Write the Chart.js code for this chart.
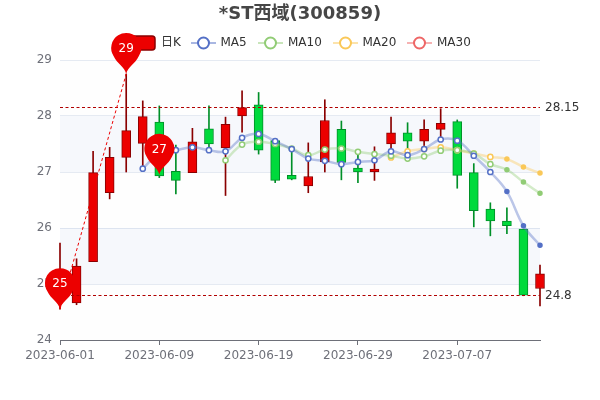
<!DOCTYPE html>
<html><head><meta charset="utf-8">
<style>html,body{margin:0;padding:0;background:#fff}#w{width:600px;height:400px}</style>
<script src="https://cdn.jsdelivr.net/npm/chart.js@4"></script></head>
<body><div id="w"><canvas id="c" width="600" height="400"></canvas></div>
<script>
const dates=['2023-06-01','2023-06-02','2023-06-05','2023-06-06','2023-06-07','2023-06-08','2023-06-09','2023-06-12','2023-06-13','2023-06-14','2023-06-15','2023-06-16','2023-06-19','2023-06-20','2023-06-21','2023-06-26','2023-06-27','2023-06-28','2023-06-29','2023-06-30','2023-07-03','2023-07-04','2023-07-05','2023-07-06','2023-07-07','2023-07-10','2023-07-11','2023-07-12','2023-07-13','2023-07-14'];
const open=[24.72,24.66,25.40,26.63,27.26,27.51,27.89,27.01,26.99,27.77,27.43,28.00,28.20,27.56,26.94,26.75,27.18,27.76,27.07,27.00,27.50,27.70,27.55,27.76,27.90,26.99,26.34,26.125,25.98,24.92];
const close=[25.00,25.32,26.99,27.26,27.74,27.99,26.93,26.85,27.54,27.50,27.85,28.15,27.39,26.85,26.87,26.92,27.92,27.17,27.00,27.05,27.70,27.55,27.76,27.87,26.94,26.31,26.125,26.04,24.80,25.18];
const low=[24.55,24.63,25.40,26.52,27.00,27.07,26.90,26.61,26.99,27.45,26.58,27.71,27.32,26.81,26.86,26.63,27.00,26.86,26.81,26.85,27.27,27.25,27.42,27.60,26.71,26.02,25.86,25.90,24.79,24.61];
const high=[25.73,25.45,27.37,27.44,28.75,28.27,28.18,27.48,27.78,28.18,27.98,28.45,28.42,27.56,27.45,27.52,28.29,27.91,27.32,27.45,27.98,27.88,27.93,28.13,27.93,27.15,26.45,26.36,25.98,25.34];
const ma5=[null,null,null,null,null,27.06,27.33,27.39,27.44,27.39,27.37,27.61,27.68,27.55,27.41,27.24,27.20,27.14,27.18,27.21,27.37,27.30,27.41,27.58,27.56,27.29,27.00,26.65,26.04,25.69];
const ma10=[null,null,null,null,null,null,null,null,null,null,27.21,27.49,27.54,27.50,27.42,27.30,27.40,27.42,27.36,27.32,27.29,27.24,27.28,27.38,27.39,27.33,27.14,27.04,26.82,26.62];
const ma20=[null,null,null,null,null,null,null,null,null,null,null,null,null,null,null,null,null,null,null,null,27.26,27.37,27.41,27.44,27.39,27.33,27.27,27.23,27.09,26.98];
const ma30=dates.map(()=>null);
const titleText='*ST西域(300859)';
const legendNames=['日K','MA5','MA10','MA20','MA30'];
const pinIndex=[0,6,4];
const pinValue=[24.55,26.95,28.75];
const pinLabel=['25','27','29'];
const levels=[28.15,24.8];
const levelLabels=['28.15','24.8'];
const yTicks=[24,25,26,27,28,29];

const FONT="'DejaVu Sans','Noto Sans CJK SC',sans-serif";
const UP='#ec0000',UPB='#8a0000',DN='#00da3c',DNB='#008f28';
const isUp=i=>close[i]>=open[i];
const lineDs=(label,data,color,alpha)=>({type:'line',label,data,order:1,clip:false,
  borderColor:alpha,borderWidth:2.5,tension:0.4,spanGaps:false,
  pointRadius:c=>c.dataIndex>=27?2:2.6,
  pointBackgroundColor:c=>c.dataIndex>=27?color:'#fff',
  pointBorderColor:color,pointBorderWidth:1.5,pointHoverRadius:2});

const decor={id:'decor',
 beforeDatasetsDraw(ch){
  const {ctx,chartArea:a,scales:{y}}=ch;ctx.save();
  for(let v=24;v<29;v++){
    ctx.fillStyle=(v%2)?'rgba(210,219,238,0.2)':'rgba(250,250,250,0.2)';
    ctx.fillRect(a.left,y.getPixelForValue(v+1),a.right-a.left,y.getPixelForValue(v)-y.getPixelForValue(v+1));
  }
  ctx.restore();
 },
 afterDatasetsDraw(ch){
  const {ctx,chartArea:a,scales:{x,y}}=ch;ctx.save();
  ctx.font='bold 18px '+FONT;ctx.textAlign='center';ctx.textBaseline='middle';ctx.fillStyle='#464646';
  ctx.fillText(titleText,300,14);
  const names=legendNames,iconX=[130,191,258,333,407],textX=[161,220.5,288,362.5,437],cols=[null,'#5470c6','#91cc75','#fac858','#ee6666'];
  ctx.font='12px '+FONT;ctx.textBaseline='middle';ctx.textAlign='left';
  ctx.fillStyle=UP;ctx.strokeStyle=UPB;ctx.lineWidth=1.5;
  ctx.beginPath();ctx.roundRect(iconX[0],36,25,14,3);ctx.fill();ctx.stroke();
  names.forEach((n,i)=>{
    ctx.fillStyle='#333';ctx.fillText(n,textX[i],43);
    if(i>0){
      ctx.globalAlpha=.5;ctx.strokeStyle=cols[i];ctx.lineWidth=2;
      ctx.beginPath();ctx.moveTo(iconX[i],43);ctx.lineTo(iconX[i]+25,43);ctx.stroke();
      ctx.globalAlpha=1;ctx.lineWidth=2;ctx.fillStyle='#fff';
      ctx.beginPath();ctx.arc(iconX[i]+12.5,43,5.5,0,Math.PI*2);ctx.fill();ctx.stroke();
    }
  });
  ctx.lineWidth=1;ctx.strokeStyle='#b00000';ctx.setLineDash([3,2.5]);
  levels.forEach((v,i)=>{
    const py=Math.floor(y.getPixelForValue(v))+.5;
    ctx.beginPath();ctx.moveTo(a.left,py);ctx.lineTo(a.right,py);ctx.stroke();
    ctx.fillStyle='#333';ctx.fillText(levelLabels[i],545,py);
  });
  ctx.strokeStyle=UP;ctx.setLineDash([3,2.5]);ctx.beginPath();
  ctx.moveTo(x.getPixelForValue(pinIndex[0]),y.getPixelForValue(pinValue[0]));
  ctx.lineTo(x.getPixelForValue(pinIndex[2]),y.getPixelForValue(pinValue[2]));ctx.stroke();
  ctx.setLineDash([]);
  pinIndex.forEach((idx,i)=>{
    const px=x.getPixelForValue(idx),py=y.getPixelForValue(pinValue[i]),cy=py-26,r=15;
    ctx.fillStyle=UP;ctx.beginPath();
    ctx.arc(px,cy,r,Math.PI*0.82,Math.PI*0.18,false);
    ctx.bezierCurveTo(px+9,cy+16,px+1.5,cy+19,px,py);
    ctx.bezierCurveTo(px-1.5,cy+19,px-9,cy+16,px-r*Math.cos(Math.PI*0.18),cy+r*Math.sin(Math.PI*0.18));
    ctx.closePath();ctx.fill();
    ctx.fillStyle='#fff';ctx.textAlign='center';ctx.fillText(pinLabel[i],px,cy+1);ctx.textAlign='left';
  });
  ctx.restore();
 }};

new Chart(document.getElementById('c'),{
 data:{labels:dates,datasets:[
  {type:'bar',label:'wick',data:dates.map((_,i)=>[low[i],high[i]]),grouped:false,order:3,clip:false,barThickness:1,
   backgroundColor:c=>isUp(c.dataIndex)?UPB:DNB,borderWidth:0},
  {type:'bar',label:'日K',data:dates.map((_,i)=>[open[i],close[i]]),grouped:false,order:2,clip:false,barThickness:9,
   backgroundColor:c=>isUp(c.dataIndex)?UP:DN,borderColor:c=>isUp(c.dataIndex)?UPB:DNB,borderWidth:1,borderSkipped:false},
  lineDs('MA5',ma5,'#5470c6','rgba(84,112,198,0.4)'),
  lineDs('MA10',ma10,'#91cc75','rgba(145,204,117,0.4)'),
  lineDs('MA20',ma20,'#fac858','rgba(250,200,88,0.4)'),
  lineDs('MA30',ma30,'#ee6666','rgba(238,102,102,0.4)')
 ]},
 options:{responsive:false,animation:false,devicePixelRatio:1,
  layout:{padding:{left:0,right:60,top:60,bottom:0}},
  plugins:{legend:{display:false},tooltip:{enabled:false},title:{display:false}},
  scales:{
   x:{type:'category',offset:false,
    afterBuildTicks:s=>{s.ticks=s.ticks.filter(t=>t.value%6===0)},
    afterFit:s=>{s.height=60},
    ticks:{autoSkip:false,maxRotation:0,minRotation:0,color:'#6e7079',font:{family:FONT,size:12},padding:4,
      callback(v){return dates[v]}},
    grid:{offset:false,drawOnChartArea:false,drawTicks:true,tickLength:5,tickColor:'#6e7079'},
    border:{display:true,color:'#6e7079',width:1}},
   y:{type:'linear',min:yTicks[0],max:yTicks[yTicks.length-1],
    afterFit:s=>{s.width=60},
    ticks:{stepSize:1,color:'#6e7079',font:{family:FONT,size:12},padding:8},
    grid:{color:'#e0e6f1',drawTicks:false},
    border:{display:false}}
  }},
 plugins:[decor]});
</script></body></html>
